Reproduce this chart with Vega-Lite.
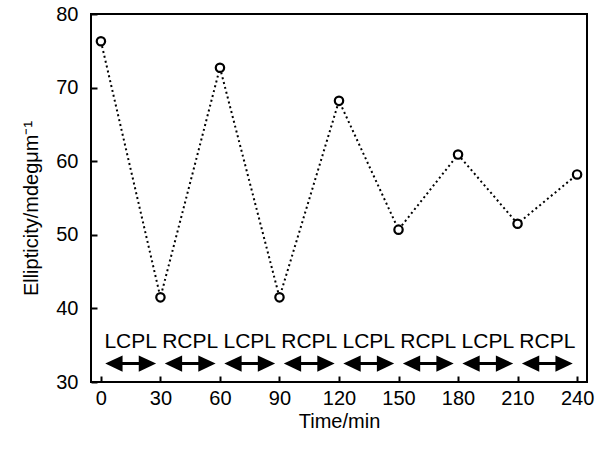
{
  "$schema": "https://vega.github.io/schema/vega-lite/v6.json",
  "width": 496,
  "height": 368,
  "autosize": {"type": "none"},
  "padding": {"left": 91, "top": 14, "right": 10, "bottom": 69},
  "background": "white",
  "config": {
    "font": "Liberation Sans",
    "view": {"stroke": "black", "strokeWidth": 2},
    "axis": {
      "grid": false,
      "domain": false,
      "tickColor": "black",
      "tickWidth": 2,
      "tickSize": -6,
      "labelColor": "black",
      "labelFont": "Liberation Sans",
      "labelFontSize": 20,
      "titleColor": "#000000",
      "titleFont": "Liberation Sans",
      "titleFontSize": 20,
      "titleFontWeight": "normal"
    }
  },
  "datasets": {
    "series": [
      {"time": 0, "ellipticity": 76.3},
      {"time": 30, "ellipticity": 41.5},
      {"time": 60, "ellipticity": 72.7},
      {"time": 90, "ellipticity": 41.5},
      {"time": 120, "ellipticity": 68.2},
      {"time": 150, "ellipticity": 50.7},
      {"time": 180, "ellipticity": 60.9},
      {"time": 210, "ellipticity": 51.5},
      {"time": 240, "ellipticity": 58.2}
    ],
    "periods": [
      {"start": 0, "end": 30, "mid": 15, "light": "LCPL"},
      {"start": 30, "end": 60, "mid": 45, "light": "RCPL"},
      {"start": 60, "end": 90, "mid": 75, "light": "LCPL"},
      {"start": 90, "end": 120, "mid": 105, "light": "RCPL"},
      {"start": 120, "end": 150, "mid": 135, "light": "LCPL"},
      {"start": 150, "end": 180, "mid": 165, "light": "RCPL"},
      {"start": 180, "end": 210, "mid": 195, "light": "LCPL"},
      {"start": 210, "end": 240, "mid": 225, "light": "RCPL"}
    ]
  },
  "layer": [
    {
      "data": {"name": "series"},
      "mark": {"type": "line", "color": "black", "strokeWidth": 2, "strokeDash": [2, 3]},
      "encoding": {
        "x": {
          "field": "time", "type": "quantitative",
          "scale": {"domain": [-5, 245], "nice": false, "zero": false},
          "axis": {"values": [0, 30, 60, 90, 120, 150, 180, 210, 240], "title": "Time/min", "labelPadding": 12, "titleX": 248, "titleY": 39, "titleBaseline": "middle", "titleAlign": "center"}
        },
        "y": {
          "field": "ellipticity", "type": "quantitative",
          "scale": {"domain": [30, 80], "nice": false, "zero": false},
          "axis": {"values": [30, 40, 50, 60, 70, 80], "title": "Ellipticity/mdegμm⁻¹", "labelPadding": 19, "titleX": -60, "titleY": 194, "titleAngle": -90, "titleBaseline": "middle", "titleAlign": "center"}
        }
      }
    },
    {
      "data": {"name": "series"},
      "mark": {"type": "point", "shape": "circle", "filled": true, "fill": "white", "stroke": "black", "strokeWidth": 2.2, "size": 70, "opacity": 1},
      "encoding": {
        "x": {"field": "time", "type": "quantitative"},
        "y": {"field": "ellipticity", "type": "quantitative"}
      }
    },
    {
      "data": {"name": "periods"},
      "mark": {"type": "rule", "color": "black", "strokeWidth": 3, "xOffset": 8, "x2Offset": -8},
      "encoding": {
        "x": {"field": "start", "type": "quantitative"},
        "x2": {"field": "end"},
        "y": {"datum": 32.5}
      }
    },
    {
      "data": {"name": "periods"},
      "mark": {"type": "point", "shape": "M-1,0L1,-0.93L1,0.93Z", "filled": true, "color": "black", "opacity": 1, "size": 300, "xOffset": 13},
      "encoding": {
        "x": {"field": "start", "type": "quantitative"},
        "y": {"datum": 32.5}
      }
    },
    {
      "data": {"name": "periods"},
      "mark": {"type": "point", "shape": "M1,0L-1,-0.93L-1,0.93Z", "filled": true, "color": "black", "opacity": 1, "size": 300, "xOffset": -13},
      "encoding": {
        "x": {"field": "end", "type": "quantitative"},
        "y": {"datum": 32.5}
      }
    },
    {
      "data": {"name": "periods"},
      "mark": {"type": "text", "font": "Liberation Sans", "fontSize": 21, "color": "black", "baseline": "middle", "align": "center"},
      "encoding": {
        "x": {"field": "mid", "type": "quantitative"},
        "y": {"datum": 35.4},
        "text": {"field": "light"}
      }
    }
  ]
}
